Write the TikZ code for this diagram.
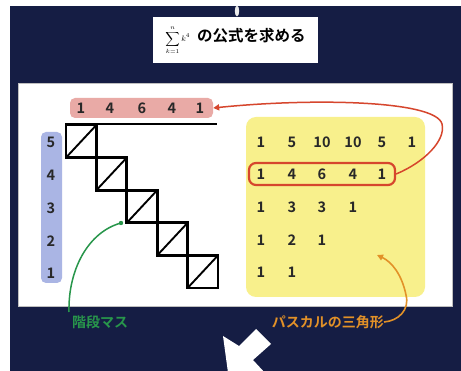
\documentclass[tikz,border=0pt]{standalone}
\usepackage{fontspec}
\setmainfont{Noto Sans CJK JP}[BoldFont={Noto Sans CJK JP Bold}]
\usetikzlibrary{arrows.meta}
\definecolor{navy}{RGB}{21,29,68}
\definecolor{pinkc}{RGB}{233,170,166}
\definecolor{bluec}{RGB}{170,181,228}
\definecolor{yellowc}{RGB}{248,240,140}
\definecolor{redc}{RGB}{214,70,45}
\definecolor{greenc}{RGB}{40,150,75}
\definecolor{orangec}{RGB}{226,145,40}
\definecolor{digitc}{RGB}{40,40,40}
\tikzset{
  num/.style={inner sep=0pt, text=digitc, font=\fontsize{14.5}{14.5}\selectfont\bfseries},
  bgbox/.style={rounded corners=5pt, inner sep=0pt, draw=none},
  stair/.style={line width=2.9pt, line join=miter},
  diag/.style={line width=1.9pt},
  lbl/.style={inner sep=0pt, font=\fontsize{14}{14}\selectfont\bfseries}
}
\begin{document}
\begin{tikzpicture}[x=1pt,y=-1pt]
\useasboundingbox (0,0) rectangle (461,371);
\fill[white] (0,0) rectangle (461,371);
\fill[navy] (10,6) rectangle (461,371);
% white panel
\fill[white, draw=black!25, line width=0.8pt] (18,83) rectangle (452,306);
% title
\node[fill=white, minimum width=165pt, minimum height=46pt, inner sep=0pt] (title) at (235.5,40)
  {{\fontsize{8}{8}\selectfont$\displaystyle\sum_{k=1}^{n}k^4$}\hspace{7pt}{\fontsize{15.5}{15.5}\selectfont\bfseries の公式を求める}};
\fill[white!85!gray] (237,11) ellipse (2.2 and 5.5);
% pink box
\node[bgbox, fill=pinkc, minimum width=143pt, minimum height=20pt] (pink) at (141.5,108) {};
\foreach \x/\t [count=\k] in {81/1,110/4,142/6,172/4,200/1}
  \node[num] (p\k) at (\x,108) {\t};
\coordinate (hla) at (65,124);
\coordinate (hlb) at (217,124);
\draw[stair] (hla) -- (hlb);
% blue box
\node[bgbox, fill=bluec, minimum width=21pt, minimum height=151pt] (blue) at (51.5,207.5) {};
\foreach \y/\t [count=\k] in {142/5,175/4,208/3,241/2,273/1}
  \node[num] (b\k) at (51,\y) {\t};
% staircase
\foreach \i in {0,...,4}{
  \coordinate (sq\i a) at ({66+30.4*\i},{125+32.6*\i});
  \coordinate (sq\i b) at ({66+30.4*(\i+1)},{125+32.6*(\i+1)});
  \draw[diag] (sq\i a |- sq\i b) -- (sq\i b |- sq\i a);
  \draw[stair] (sq\i a) rectangle (sq\i b);
}
% yellow box
\node[bgbox, rounded corners=10pt, fill=yellowc, minimum width=179pt, minimum height=180pt] (yellow) at (335.5,207) {};
\foreach \x/\t [count=\k] in {261/1,292/5,322/10,353/10,382/5,412/1}
  \node[num] (r1\k) at (\x,142) {\t};
\foreach \x/\t [count=\k] in {261/1,292/4,322/6,353/4,382/1}
  \node[num] (r2\k) at (\x,174) {\t};
\foreach \x/\t [count=\k] in {261/1,292/3,322/3,353/1}
  \node[num] (r3\k) at (\x,207) {\t};
\foreach \x/\t [count=\k] in {261/1,292/2,322/1}
  \node[num] (r4\k) at (\x,240) {\t};
\foreach \x/\t [count=\k] in {261/1,292/1}
  \node[num] (r5\k) at (\x,272) {\t};
\node[draw=redc, line width=2.2pt, rounded corners=7pt, minimum width=146pt, minimum height=22pt, inner sep=0pt] (hl) at (322,174) {};
% red arrow
\draw[redc, line width=1.5pt, -{Triangle[length=6pt,width=6pt]}] (hl.east) .. controls (425,162) and (446,140) .. (442,124) .. controls (436,100) and (310,98) .. (pink.east);
% labels
\node[lbl, text=greenc, anchor=west] (glabel) at (72,322) {階段マス};
\node[lbl, text=orangec, anchor=east] (olabel) at (384,322) {パスカルの三角形};
\coordinate (gdot) at (121,223);
\draw[greenc, line width=1.5pt] (69,312) .. controls (68,270) and (88,232) .. (gdot);
\fill[greenc] (gdot) circle (2.2);
\draw[orangec, line width=1.6pt, -{Triangle[length=6pt,width=6pt]}] (olabel.east) .. controls (398,321) and (410,310) .. (406,295) .. controls (402,275) and (392,262) .. (377,255);
% white arrow
\fill[white] (229,380) -- (223,336) -- (239,346) -- (256,329) -- (271,344) -- (253,360) -- (266,374) -- cycle;
\end{tikzpicture}
\end{document}
